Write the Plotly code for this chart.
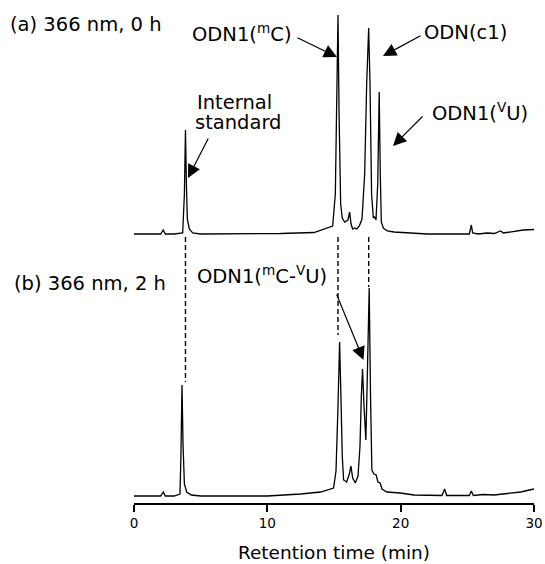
import plotly.graph_objects as go

# ---- data (retention time in min, detector signal in arbitrary units above baseline) ----
time_a = [0.0, 1.0, 2.0, 2.19, 2.35, 3.0, 3.65, 3.78, 3.86, 3.93, 4.0, 4.15, 4.4, 5.0, 8.0, 11.0,
          13.5, 14.5, 14.9, 15.1, 15.22, 15.3, 15.38, 15.5, 15.62, 15.8, 16.05, 16.17, 16.28, 16.4,
          16.55, 16.7, 16.9, 17.1, 17.3, 17.45, 17.6, 17.7, 17.82, 17.95, 18.05, 18.15, 18.28, 18.39,
          18.47, 18.55, 18.7, 19.0, 19.5, 20.5, 22.0, 24.0, 25.15, 25.3, 25.4, 25.8, 26.5, 27.0,
          27.5, 27.7, 28.5, 29.2, 30.0]
signal_a = [0, 0, 0, 4, 0, 0, 1, 40, 104, 50, 15, 5, 1, 0, 0, 0.5,
            1.5, 6, 8, 40, 150, 219, 120, 30, 16, 12, 14, 22, 10, 5,
            6, 5, 8, 15, 60, 150, 206, 150, 40, 16, 17, 14, 50, 142,
            60, 12, 6, 3, 2, 1, 0, 0, 0, 9, 1, 0, 1, 0.5,
            3, 1, 3, 4, 4.5]

time_b = [0.0, 1.0, 2.0, 2.2, 2.35, 3.0, 3.45, 3.52, 3.6, 3.68, 3.78, 3.95, 4.3, 5.0, 10.0, 12.5,
          14.0, 14.97, 15.15, 15.3, 15.42, 15.52, 15.62, 15.72, 15.95, 16.15, 16.27, 16.4, 16.6,
          16.8, 16.95, 17.05, 17.14, 17.25, 17.39, 17.5, 17.64, 17.74, 17.84, 18.0, 18.16, 18.3,
          18.46, 18.6, 18.97, 19.96, 21.0, 23.1, 23.3, 23.45, 25.15, 25.3, 25.45, 26.2, 27.0,
          28.0, 29.0, 30.0]
signal_b = [0, 0, 0, 4, 0, 0, 2, 40, 111, 50, 12, 4, 1, 0, 0, 2,
            4, 8, 25, 90, 154, 100, 40, 16, 14, 22, 30, 18, 13,
            20, 50, 100, 127, 90, 56, 120, 208, 100, 26, 22, 21, 14,
            13, 7, 4, 3, 1, 0.5, 7, 0.5, 0.5, 5, 0.5, 1.5, 1,
            2.5, 4, 7]

marker_times = [3.86, 15.3, 17.6]          # peak positions of trace (a) marked by dashed lines
marker_ends_b = [114, 161, 209]            # where dashed lines stop above trace (b)
x_ticks = [0, 10, 20, 30]

# ---- layout geometry ----
W, H = 545, 564
L, R, T, B = 134, 11, 0, 61
PW, PH = W - L - R, H - T - B
A_RANGE = [-17.5, 234]
B_RANGE = [-7, 244.5]

def pxx(px):
    return (px - L) / PW

def pyy(py):
    return (H - B - py) / PH

def a_to_paper(v):
    return 0.5 + (v - A_RANGE[0]) / (A_RANGE[1] - A_RANGE[0]) * 0.5

def b_to_paper(v):
    return (v - B_RANGE[0]) / (B_RANGE[1] - B_RANGE[0]) * 0.5

FONT = "DejaVu Sans"

fig = go.Figure()
fig.add_trace(go.Scatter(x=time_a, y=signal_a, mode="lines", xaxis="x", yaxis="y",
                         line=dict(color="black", width=1.3), showlegend=False))
fig.add_trace(go.Scatter(x=time_b, y=signal_b, mode="lines", xaxis="x", yaxis="y2",
                         line=dict(color="black", width=1.3), showlegend=False))

for t, e in zip(marker_times, marker_ends_b):
    fig.add_shape(type="line", xref="x", yref="paper", x0=t, x1=t,
                  y0=a_to_paper(-3), y1=b_to_paper(e),
                  line=dict(color="black", width=1.4, dash="5px,3px"))

annotations = []
texts = [
    ("(a) 366 nm, 0 h", 8, 25, "left"),
    ("(b) 366 nm, 2 h", 12, 283, "left"),
    ("ODN1(<sup>m</sup>C)", 242, 33, "center"),
    ("ODN(c1)", 465, 33, "center"),
    ("Internal", 195, 102, "left"),
    ("standard", 193, 122, "left"),
    ("ODN1(<sup>V</sup>U)", 480, 112, "center"),
    ("ODN1(<sup>m</sup>C-<sup>V</sup>U)", 261.5, 275, "center"),
]
for txt, px, py, anc in texts:
    annotations.append(dict(text=txt, xref="paper", yref="paper", x=pxx(px), y=pyy(py),
                            xanchor=anc, yanchor="middle", showarrow=False,
                            font=dict(family=FONT, size=19.5, color="black")))

arrows = [((296, 37), (337, 57)),
          ((422, 35), (383, 56)),
          ((209, 137), (188, 178)),
          ((424, 115), (393, 146)),
          ((336, 293), (363.5, 360))]
for (tx, ty), (hx, hy) in arrows:
    annotations.append(dict(text="", xref="paper", yref="paper", x=pxx(hx), y=pyy(hy),
                            ax=tx - hx, ay=ty - hy, showarrow=True, arrowhead=2,
                            arrowsize=2.2, arrowwidth=1.2, arrowcolor="black",
                            standoff=0, startstandoff=0))

fig.update_layout(
    width=W, height=H,
    margin=dict(l=L, r=R, t=T, b=B, pad=0),
    paper_bgcolor="white", plot_bgcolor="white",
    font=dict(family=FONT, color="black"),
    xaxis=dict(range=[0, 30], anchor="y2", tickmode="array", tickvals=x_ticks,
               ticktext=[str(v) for v in x_ticks], ticks="outside", ticklen=7, tickwidth=1.5,
               tickcolor="black", showline=True, linecolor="black", linewidth=1.5,
               showgrid=False, zeroline=False,
               tickfont=dict(family=FONT, size=13.5, color="black"),
               title=dict(text="Retention time (min)", standoff=16,
                          font=dict(family=FONT, size=18.5, color="black"))),
    yaxis=dict(domain=[0.5, 1], range=A_RANGE, visible=False, anchor="x"),
    yaxis2=dict(domain=[0, 0.5], range=B_RANGE, visible=False, anchor="x"),
    annotations=annotations,
)

fig.write_html("out.html")
